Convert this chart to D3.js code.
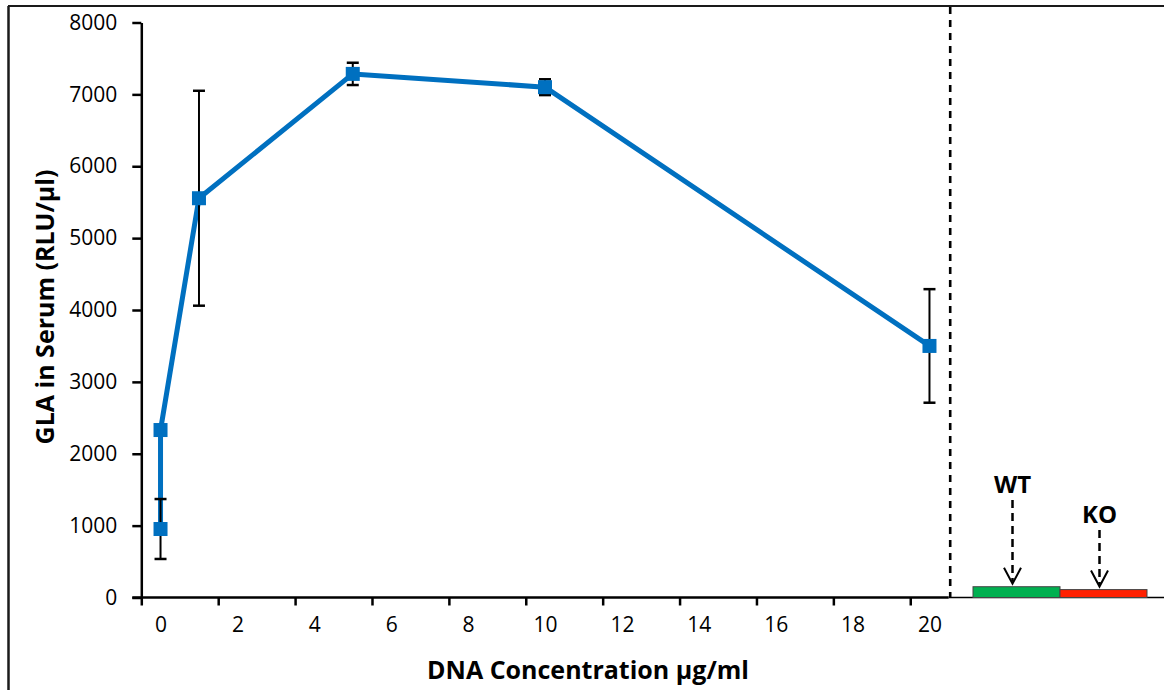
<!DOCTYPE html>
<html>
<head>
<meta charset="utf-8">
<script src="https://cdn.jsdelivr.net/npm/d3@7"></script>
<style>
  html, body { margin: 0; padding: 0; background: #fff; }
  svg { display: block; }
  text { font-family: "Open Sans", "Liberation Sans", sans-serif; fill: #000; }
</style>
</head>
<body>
<svg id="chart" width="1164" height="690"></svg>
<script>
// ---- data ----
const concentrations = [0, 0, 1, 5, 10, 20];
const glaMeans = [953, 2330, 5555, 7285, 7100, 3500];
const glaErrors = [417, 0, 1495, 155, 110, 790];
const xTickLabels = [0, 2, 4, 6, 8, 10, 12, 14, 16, 18, 20];
const xTickMarks = [-0.5, 1.5, 3.5, 5.5, 7.5, 9.5, 11.5, 13.5, 15.5, 17.5, 19.5];
const yTickValues = [0, 1000, 2000, 3000, 4000, 5000, 6000, 7000, 8000];
const controlGroups = ["WT", "KO"];
const controlValues = [150, 110];
const controlColors = ["#00B050", "#FF2000"];

const svg = d3.select("#chart");
const x = d3.scaleLinear().domain([-0.5, 20.5]).range([141.3, 948.7]);
const y = d3.scaleLinear().domain([0, 8000]).range([597.5, 22.5]);
const xc = d3.scaleBand().domain(controlGroups).range([973, 1147]).padding(0);

// outer frame (top and left)
svg.append("line").attr("x1", 8).attr("x2", 1164).attr("y1", 6).attr("y2", 6)
  .attr("stroke", "#1a1a1a").attr("stroke-width", 2);
svg.append("line").attr("x1", 8.5).attr("x2", 8.5).attr("y1", 6).attr("y2", 690)
  .attr("stroke", "#1a1a1a").attr("stroke-width", 2.5);

// y axis
const yAxis = svg.append("g").attr("transform", `translate(${x(-0.5)},0)`)
  .call(d3.axisLeft(y).tickValues(yTickValues).tickSize(9).tickPadding(15).tickSizeOuter(0).tickFormat(d3.format("d")));
yAxis.select(".domain").attr("stroke", "#000").attr("stroke-width", 2.5);
yAxis.selectAll(".tick line").attr("stroke", "#000").attr("stroke-width", 2.5);
yAxis.selectAll(".tick text").style("font-size", "21px").style("font-family", "Open Sans").attr("fill", "#111");

// x axis ticks
const xAxisTicks = svg.append("g").attr("transform", `translate(0,${y(0)})`)
  .call(d3.axisBottom(x).tickValues(xTickMarks).tickSize(8).tickFormat("").tickSizeOuter(0));
xAxisTicks.select(".domain").remove();
xAxisTicks.selectAll(".tick line").attr("stroke", "#000").attr("stroke-width", 2.5);
// x labels
const xAxisLabels = svg.append("g").attr("transform", `translate(0,${y(0)})`)
  .call(d3.axisBottom(x).tickValues(xTickLabels).tickSize(0).tickPadding(20).tickFormat(d3.format("d")));
xAxisLabels.select(".domain").remove();
xAxisLabels.selectAll(".tick text").style("font-size", "21px").style("font-family", "Open Sans").attr("fill", "#111");

// x axis baseline (main) and continuation
svg.append("line").attr("x1", x(-0.5) - 9).attr("x2", x(20.5)).attr("y1", y(0)).attr("y2", y(0))
  .attr("stroke", "#000").attr("stroke-width", 2.5);
svg.append("line").attr("x1", x(20.5)).attr("x2", 1164).attr("y1", y(0)).attr("y2", y(0))
  .attr("stroke", "#000").attr("stroke-width", 1.7);

// dashed separator
svg.append("line").attr("x1", x(20.5) + 1.5).attr("x2", x(20.5) + 1.5).attr("y1", 7).attr("y2", y(0))
  .attr("stroke", "#000").attr("stroke-width", 2.6).attr("stroke-dasharray", "7,6");

// axis titles
svg.append("text").attr("x", 588).attr("y", 679).attr("text-anchor", "middle")
  .style("font-size", "25px").style("font-weight", "bold").text("DNA Concentration µg/ml");
svg.append("text").attr("transform", "translate(54,307) rotate(-90)").attr("text-anchor", "middle")
  .style("font-size", "25px").style("font-weight", "bold").text("GLA in Serum (RLU/µl)");

// data
const pts = concentrations.map((c, i) => ({ c, m: glaMeans[i], e: glaErrors[i] }));

// line
svg.append("path").datum(pts)
  .attr("d", d3.line().x(d => x(d.c)).y(d => y(d.m)))
  .attr("fill", "none").attr("stroke", "#0070C0").attr("stroke-width", 5).attr("stroke-linejoin", "round");

// error bars
const eb = svg.append("g").selectAll("g").data(pts.filter(d => d.e > 0)).join("g");
eb.append("line").attr("x1", d => x(d.c)).attr("x2", d => x(d.c))
  .attr("y1", d => y(d.m - d.e)).attr("y2", d => y(d.m + d.e))
  .attr("stroke", "#000").attr("stroke-width", 2);
eb.append("line").attr("x1", d => x(d.c) - 6).attr("x2", d => x(d.c) + 6)
  .attr("y1", d => y(d.m + d.e)).attr("y2", d => y(d.m + d.e)).attr("stroke", "#000").attr("stroke-width", 2.5);
eb.append("line").attr("x1", d => x(d.c) - 6).attr("x2", d => x(d.c) + 6)
  .attr("y1", d => y(d.m - d.e)).attr("y2", d => y(d.m - d.e)).attr("stroke", "#000").attr("stroke-width", 2.5);

// markers
svg.append("g").selectAll("rect").data(pts).join("rect")
  .attr("x", d => x(d.c) - 7).attr("y", d => y(d.m) - 7)
  .attr("width", 14).attr("height", 14).attr("fill", "#0070C0");

// control bars
svg.append("g").selectAll("rect").data(controlGroups).join("rect")
  .attr("x", d => xc(d)).attr("width", xc.bandwidth())
  .attr("y", (d, i) => y(controlValues[i])).attr("height", (d, i) => y(0) - y(controlValues[i]))
  .attr("fill", (d, i) => controlColors[i]).attr("stroke", "#444").attr("stroke-width", 1);

// control labels and arrows
const labelBase = [493, 523];
controlGroups.forEach((g, i) => {
  const cx = xc(g) + xc.bandwidth() / 2 - 4;
  const tip = y(controlValues[i]) - 3;
  svg.append("text").attr("x", cx).attr("y", labelBase[i]).attr("text-anchor", "middle")
    .style("font-size", "24px").style("font-weight", "bold").text(g);
  svg.append("line").attr("x1", cx).attr("x2", cx).attr("y1", labelBase[i] + 7).attr("y2", tip - 2)
    .attr("stroke", "#000").attr("stroke-width", 2.5).attr("stroke-dasharray", "8,5");
  svg.append("path").attr("d", `M${cx - 8.5},${tip - 16} L${cx},${tip} L${cx + 8.5},${tip - 16}`)
    .attr("fill", "none").attr("stroke", "#000").attr("stroke-width", 2);
});
</script>
</body>
</html>
